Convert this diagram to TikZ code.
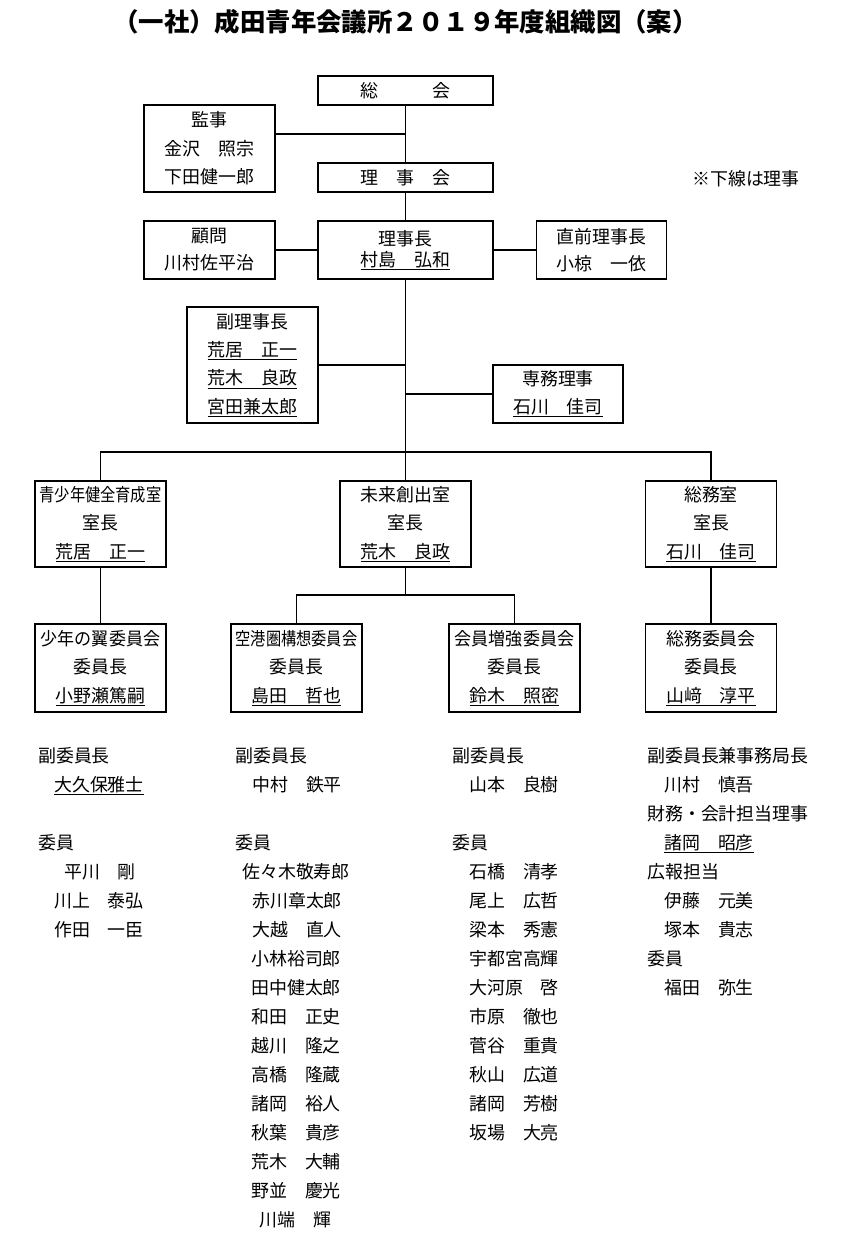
\documentclass[tikz,border=0pt]{standalone}
\usepackage{fontspec}
\setmainfont{Noto Sans CJK JP}
\usepackage{graphicx}
\usetikzlibrary{positioning}
\usetikzlibrary{calc}

\tikzset{
    box/.style={draw, line width=1.6bp, inner sep=0pt, align=center,
        minimum width=131bp, font=\fontsize{18}{28.5}\selectfont},
    wire/.style={line width=1.6bp},
    plain/.style={anchor=base west, inner sep=0pt, font=\fontsize{18}{18}\selectfont},
}

\begin{document}
\begin{tikzpicture}[x=1bp, y=-1bp]
    \useasboundingbox (0,0) rectangle (850,1237);

    \node[font=\fontsize{25.5}{25.5}\bfseries\selectfont] (title) at (405.5,22)
        {（一社）成田青年会議所２０１９年度組織図（案）};

    % top
    \node[box, minimum width=175bp, minimum height=29bp] (soukai) at (405.5,90.5) {総　　　会};
    \node[box, minimum height=87bp] (kanji) at (209.5,148.5) {監事\\金沢　照宗\\下田健一郎};
    \node[box, minimum width=175bp, minimum height=29bp] (rijikai) at (405.5,177.5) {理　事　会};
    \node[plain] (note) at (692,185) {※下線は理事};

    \node[box, minimum height=58bp] (komon) at (209.5,250) {顧問\\[-1.5bp]川村佐平治};
    \node[box, minimum width=175bp, minimum height=58bp] (rijicho) at (405.5,250)
        {理事長\\[-7.5bp]\underline{村島　弘和}};
    \node[box, minimum width=130bp, minimum height=58bp] (zenrijicho) at (601.5,250)
        {直前理事長\\[-1.5bp]小椋　一依};

    \node[box, minimum height=116bp] (fuku) at (252.5,365)
        {副理事長\\\underline{荒居　正一}\\\underline{荒木　良政}\\\underline{宮田兼太郎}};
    \node[box, minimum width=130bp, minimum height=58bp] (senmu) at (558,394)
        {専務理事\\[-0.5bp]\underline{石川　佳司}};

    % rooms
    \node[box, minimum height=86bp] (room1) at (100.5,524)
        {\scalebox{0.85}[1]{青少年健全育成室}\\室長\\\underline{荒居　正一}};
    \node[box, minimum height=86bp] (room2) at (405.5,524)
        {未来創出室\\室長\\\underline{荒木　良政}};
    \node[box, minimum height=86bp] (room3) at (711,524)
        {総務室\\室長\\\underline{石川　佳司}};

    % committees
    \node[box, minimum height=88bp] (com1) at (100.5,668)
        {\scalebox{0.95}[1]{少年の翼委員会}\\委員長\\\underline{小野瀬篤嗣}};
    \node[box, minimum height=88bp] (com2) at (296.5,668)
        {\scalebox{0.85}[1]{空港圏構想委員会}\\委員長\\\underline{島田　哲也}};
    \node[box, minimum height=88bp] (com3) at (514.5,668)
        {\scalebox{0.95}[1]{会員増強委員会}\\委員長\\\underline{鈴木　照密}};
    \node[box, minimum height=88bp] (com4) at (711,668)
        {総務委員会\\委員長\\\underline{山﨑　淳平}};

    % connectors
    \coordinate (kj) at ([yshift=14.5bp]kanji.east);
    \coordinate (bus) at (405.5,452);
    \coordinate (bus2) at (405.5,595);
    \draw[wire] (soukai) -- (rijikai);
    \draw[wire] (kj) -- (kj -| soukai.south);
    \draw[wire] (rijikai) -- (rijicho);
    \draw[wire] (komon) -- (rijicho);
    \draw[wire] (rijicho) -- (zenrijicho);
    \draw[wire] (rijicho.south) -- (bus);
    \draw[wire] (fuku.east) -- (fuku.east -| bus);
    \draw[wire] (senmu.west) -- (senmu.west -| bus);
    \draw[wire] (room1.north) |- (bus) -| (room3.north);
    \draw[wire] (bus) -- (room2.north);
    \draw[wire] (room1) -- (com1);
    \draw[wire] (room2.south) -- (bus2);
    \draw[wire] (com2.north) |- (bus2) -| (com3.north);
    \draw[wire] (room3) -- (com4);

    % members
    \foreach \x/\r/\nm [count=\i] in {39/0/副委員長, 55/1/\underline{大久保雅士}, 39/3/委員,
        65/4/平川　剛, 55/5/川上　泰弘, 55/6/作田　一臣}
        \node[plain] (ma\i) at (\x-1,762+29*\r) {\nm};

    \foreach \x/\r/\nm [count=\i] in {236/0/副委員長, 253/1/中村　鉄平, 236/3/委員,
        243/4/佐々木敬寿郎, 253/5/赤川章太郎, 253/6/大越　直人, 252/7/小林裕司郎,
        252/8/田中健太郎, 252/9/和田　正史, 252/10/越川　隆之, 252/11/高橋　隆蔵,
        252/12/諸岡　裕人, 252/13/秋葉　貴彦, 252/14/荒木　大輔, 252/15/野並　慶光,
        260/16/川端　輝}
        \node[plain] (mb\i) at (\x-1,762+29*\r) {\nm};

    \foreach \x/\r/\nm [count=\i] in {453/0/副委員長, 470/1/山本　良樹, 453/3/委員,
        470/4/石橋　清孝, 470/5/尾上　広哲, 470/6/梁本　秀憲, 470/7/宇都宮高輝,
        470/8/大河原　啓, 470/9/市原　徹也, 470/10/菅谷　重貴, 470/11/秋山　広道,
        470/12/諸岡　芳樹, 470/13/坂場　大亮}
        \node[plain] (mc\i) at (\x-1,762+29*\r) {\nm};

    \foreach \x/\r/\nm [count=\i] in {648/0/副委員長兼事務局長, 665/1/川村　慎吾,
        648/2/財務・会計担当理事, 665/3/\underline{諸岡　昭彦}, 648/4/広報担当,
        665/5/伊藤　元美, 665/6/塚本　貴志, 648/7/委員, 665/8/福田　弥生}
        \node[plain] (md\i) at (\x-1,762+29*\r) {\nm};
\end{tikzpicture}
\end{document}
